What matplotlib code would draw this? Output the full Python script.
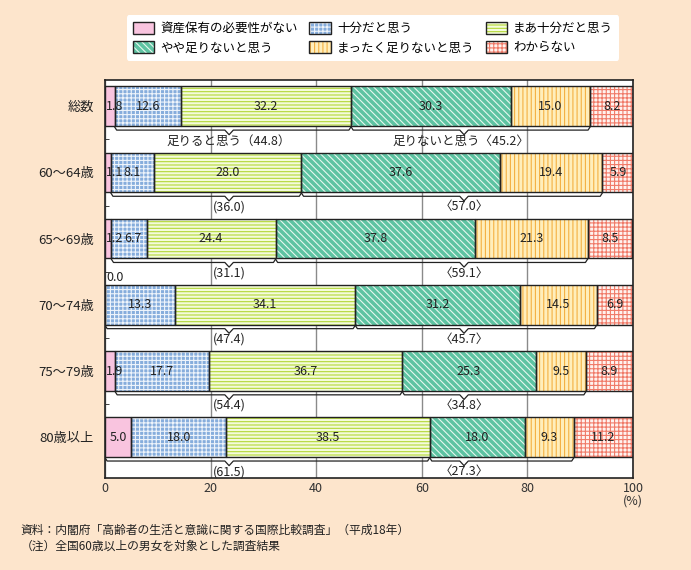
import numpy as np
import matplotlib
matplotlib.use("Agg")
import matplotlib.pyplot as plt
from matplotlib.patches import Patch
from matplotlib.legend_handler import HandlerTuple

plt.rcParams["font.family"] = ["Noto Sans CJK JP", "DejaVu Sans"]
plt.rcParams["hatch.linewidth"] = 0.8

# data
groups = ["総数", "60～64歳", "65～69歳", "70～74歳", "75～79歳", "80歳以上"]
series = ["資産保有の必要性がない", "十分だと思う", "まあ十分だと思う",
          "やや足りないと思う", "まったく足りないと思う", "わからない"]
no_need = [1.8, 1.1, 1.2, 0.0, 1.9, 5.0]
enough = [12.6, 8.1, 6.7, 13.3, 17.7, 18.0]
fairly_enough = [32.2, 28.0, 24.4, 34.1, 36.7, 38.5]
bit_short = [30.3, 37.6, 37.8, 31.2, 25.3, 18.0]
very_short = [15.0, 19.4, 21.3, 14.5, 9.5, 9.3]
unknown = [8.2, 5.9, 8.5, 6.9, 8.9, 11.2]
enough_total = [44.8, 36.0, 31.1, 47.4, 54.4, 61.5]
short_total = [45.2, 57.0, 59.1, 45.7, 34.8, 27.3]
enough_first = [1, 1, 1, 1, 1, 0]  # first segment counted in the "enough" bracket
xticks = [0, 20, 40, 60, 80, 100]

values = np.array([no_need, enough, fairly_enough, bit_short, very_short, unknown])

# face colour, hatch, hatch colour
styles = [
    ("#f9c4df", "", "#f9c4df"),
    ("#86addc", "++++", "#eef4fb"),
    ("#f4fbdc", "-----", "#b4d838"),
    ("#5ec3a2", "\\\\\\\\\\", "#e6f7ef"),
    ("#ffeebb", "||||", "#f4b042"),
    ("#fff2ee", "++++", "#f07a68"),
]

fig = plt.figure(figsize=(6.91, 5.70), dpi=100)
fig.patch.set_facecolor("#fde5cc")
ax = fig.add_axes([0.152, 0.161, 0.764, 0.699])

y = np.arange(len(groups))
h = 0.6
left = np.zeros(len(groups))
handles = []
for k, (fc, hatch, hc) in enumerate(styles):
    ax.barh(y, values[k], h, left=left, color=fc, hatch=hatch, edgecolor=hc,
            linewidth=0, zorder=2)
    ax.barh(y, values[k], h, left=left, fill=False, edgecolor="#222222",
            linewidth=1.0, zorder=3)
    for i in range(len(groups)):
        v = values[k][i]
        if v == 0:
            ax.text(0.3, y[i] - h / 2 - 0.02, f"{v:.1f}", ha="left", va="bottom",
                    fontsize=9, color="#222222", zorder=4)
        elif v < 3:
            ax.text(left[i] + 0.2, y[i], f"{v:.1f}", ha="left", va="center",
                    fontsize=9, color="#222222", zorder=4)
        else:
            xc = left[i] + v / 2
            if k == 1 and values[0][i] < 3:
                xc = max(xc, left[i] + 4.0)
            ax.text(xc, y[i], f"{v:.1f}", ha="center", va="center",
                    fontsize=9, color="#222222", zorder=4)
    left = left + values[k]
    handles.append((Patch(facecolor=fc, hatch=hatch, edgecolor=hc, linewidth=0),
                    Patch(fill=False, edgecolor="#222222", linewidth=1.0)))

cum = np.vstack([np.zeros(len(groups)), np.cumsum(values, axis=0)])


def bracket(x0, x1, xn, yb):
    y0 = yb + 0.06
    xs = [x0, x0 + 0.4, xn - 0.8, xn, xn + 0.8, x1 - 0.4, x1]
    ys = [yb + 0.01, y0, y0, y0 + 0.07, y0, y0, yb + 0.01]
    ax.plot(xs, ys, color="#222222", lw=0.9, zorder=4, solid_joinstyle="round")


for i in range(len(groups)):
    yb = y[i] + h / 2
    bracket(cum[enough_first[i], i], cum[3, i], 23.5, yb)
    bracket(cum[3, i], cum[5, i], 68.0, yb)
    if i == 0:
        lt = f"足りると思う（{enough_total[i]:.1f}）"
        rt = f"足りないと思う〈{short_total[i]:.1f}〉"
        ax.text(23.5, yb + 0.23, lt, ha="center", va="center", fontsize=9,
                color="#222222", zorder=4)
        ax.text(67.5, yb + 0.23, rt, ha="center", va="center", fontsize=9,
                color="#222222", zorder=4)
    else:
        ax.text(23.5, yb + 0.22, f"({enough_total[i]:.1f})", ha="center",
                va="center", fontsize=9, color="#222222", zorder=4)
        ax.text(68.0, yb + 0.22, f"〈{short_total[i]:.1f}〉", ha="center",
                va="center", fontsize=9, color="#222222", zorder=4)

ax.set_xlim(0, 100)
ax.set_ylim(5.62, -0.4)
ax.set_xticks(xticks)
ax.set_xticklabels([str(t) for t in xticks], fontsize=9, color="#333333")
ax.tick_params(axis="x", length=0, pad=3)
ax.set_yticks(y)
ax.set_yticklabels(groups, fontsize=9.5, color="#222222")
ax.tick_params(axis="y", which="major", length=0, pad=8)
ax.set_yticks(y[:-1] + 0.5, minor=True)
ax.tick_params(axis="y", which="minor", direction="in", length=3, color="#222222")
ax.grid(axis="x", color="#8a8a8a", lw=1.0, zorder=0)
ax.set_axisbelow(True)
for s in ax.spines.values():
    s.set_color("#222222")
    s.set_linewidth(1.2)
ax.text(100, 5.62 + 0.24, "(%)", ha="center", va="top", fontsize=9,
        color="#333333")

order = [0, 3, 1, 4, 2, 5]
leg = fig.legend([handles[j] for j in order], [series[j] for j in order],
                 handler_map={tuple: HandlerTuple(ndivide=1)},
                 loc="upper center", bbox_to_anchor=(0.54, 0.984), ncol=3,
                 fontsize=9, frameon=True, fancybox=True, edgecolor="none",
                 facecolor="white", framealpha=1, handlelength=1.7,
                 handleheight=1.1, columnspacing=0.9, handletextpad=0.5,
                 labelspacing=0.5, borderpad=0.5)

fig.text(0.03, 0.070, "資料：内閣府「高齢者の生活と意識に関する国際比較調査」（平成18年）",
         fontsize=8.5, color="#222222", va="center")
fig.text(0.03, 0.042, "（注）全国60歳以上の男女を対象とした調査結果",
         fontsize=8.5, color="#222222", va="center")

fig.savefig("out.png", dpi=100, facecolor=fig.get_facecolor())
